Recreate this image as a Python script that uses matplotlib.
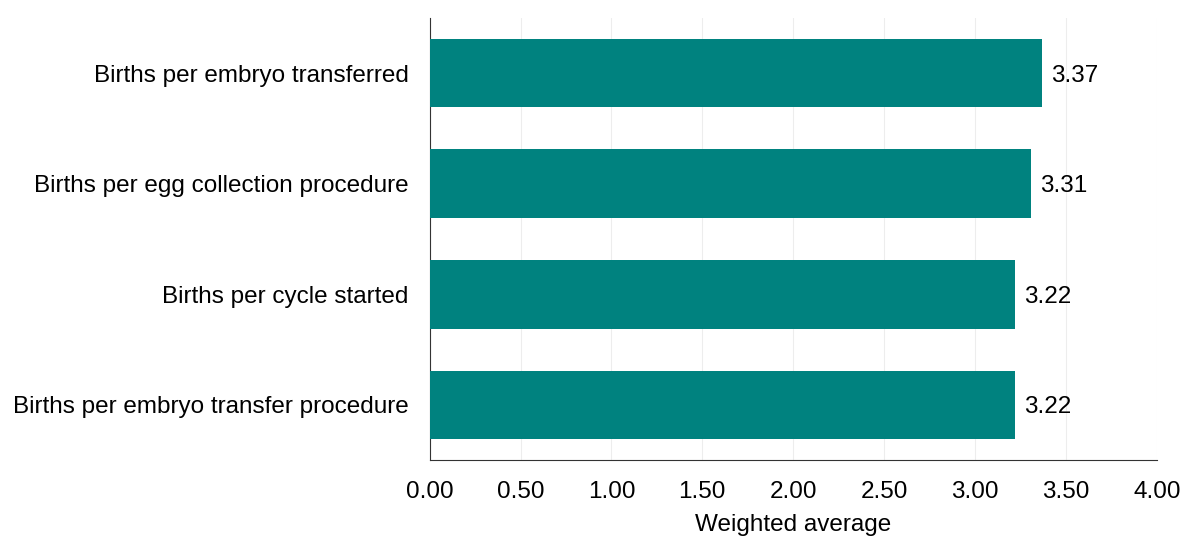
import matplotlib
matplotlib.use("Agg")
import matplotlib.pyplot as plt

# Data
categories = ['Births per embryo transferred',
              'Births per egg collection procedure',
              'Births per cycle started',
              'Births per embryo transfer procedure']
values = [3.37, 3.31, 3.22, 3.22]
xticks = [0, 0.5, 1.0, 1.5, 2.0, 2.5, 3.0, 3.5, 4.0]

plt.rcParams["font.family"] = ["Liberation Sans", "DejaVu Sans"]

fig = plt.figure(figsize=(12, 5.57), dpi=100)
ax = fig.add_axes([0.358, 0.174, 0.606, 0.794])

y = list(range(len(categories)))[::-1]
bars = ax.barh(y, values, height=0.62, color='#00827F', zorder=3)

for yi, v in zip(y, values):
    ax.text(v + 0.05, yi, f'{v:.2f}', va='center_baseline', ha='left', fontsize=17.5)

ax.set_xlim(0, 4)
ax.set_ylim(-0.5, 3.5)
ax.set_xticks(xticks)
ax.set_xticklabels([f'{t:.2f}' for t in xticks], fontsize=17.5)
ax.set_yticks(y)
ax.set_yticklabels(categories, fontsize=17.5)
ax.tick_params(length=0, pad=15)
ax.tick_params(axis='x', pad=15)
ax.set_xlabel('Weighted average', fontsize=17.5, labelpad=8)

ax.grid(axis='x', color='#ededed', linewidth=0.8, zorder=0)
for s in ['top', 'right']:
    ax.spines[s].set_visible(False)
ax.spines['left'].set_color('#333333')
ax.spines['bottom'].set_color('#333333')

fig.savefig('out.png', dpi=100)
